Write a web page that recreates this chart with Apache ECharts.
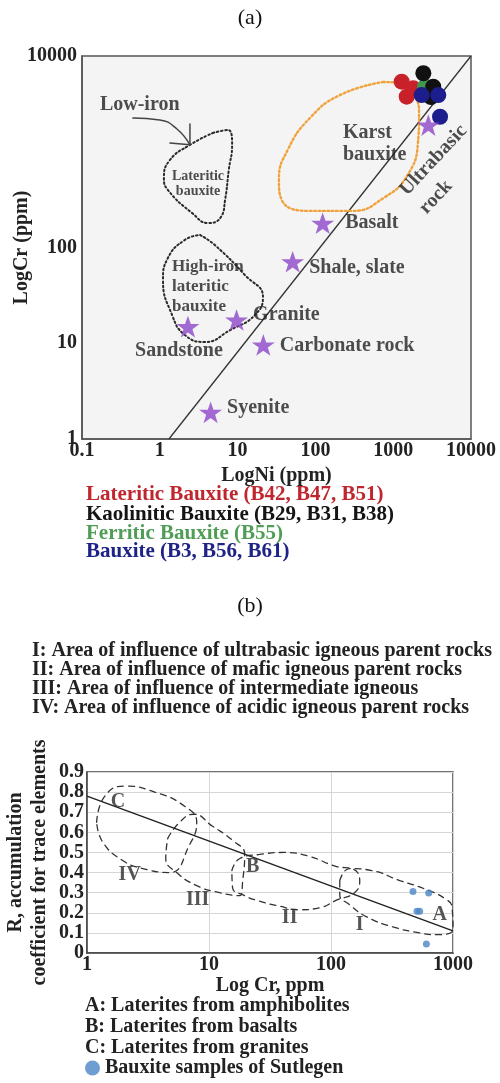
<!DOCTYPE html>
<html>
<head>
<meta charset="utf-8">
<script src="https://cdn.jsdelivr.net/npm/echarts@6/dist/echarts.min.js"></script>
<style>
  html, body { margin: 0; padding: 0; background: #ffffff; }
  #chart { width: 500px; height: 1083px; }
</style>
</head>
<body>
<div id="chart"></div>
<script>
// ===================== Panel (a): LogNi vs LogCr =====================
const xTicksA = [0.1, 1, 10, 100, 1000, 10000];
const yTicksA = [1, 10, 100, 10000];

// Reference rocks (stars)
const rockNames = ['Syenite', 'Sandstone', 'Granite', 'Carbonate rock', 'Shale, slate', 'Basalt', 'Ultrabasic rock'];
const rockNi = [4.5, 2.3, 9.7, 21.4, 51, 124, 2830];
const rockCr = [1.9, 14.9, 17.5, 9.6, 71, 179, 1900];

// Bauxite samples
const lateriticNames = ['B42', 'B47', 'B51'];
const lateriticNi = [1285, 1810, 1490];
const lateriticCr = [5390, 4600, 3760];

const kaoliniticNames = ['B29', 'B31', 'B38'];
const kaoliniticNi = [2440, 3270, 3060];
const kaoliniticCr = [6600, 4780, 3730];

const ferriticNames = ['B55'];
const ferriticNi = [2570];
const ferriticCr = [4780];

const bauxiteNames = ['B3', 'B56', 'B61'];
const bauxiteNi = [2320, 3800, 4000];
const bauxiteCr = [3910, 3910, 2320];

// 1:1 reference line
const diagonalA = [[1.31, 1], [10000, 10000]];

// Field outlines [Ni, Cr]
const lowIronField = [[4.8, 1570], [7.5, 1690], [8.5, 1180], [7.7, 645], [6.9, 313], [6.1, 208], [4.2, 180],
  [2.6, 229], [1.27, 399], [1.13, 532], [1.35, 820], [2.44, 1180], [4.8, 1570]];
const highIronField = [[3.3, 135], [5.1, 106], [12.4, 51.6], [21.2, 30.4], [16.7, 19.7], [8.0, 13.7], [3.8, 10.3],
  [2.1, 12.2], [1.44, 19.7], [1.1, 45.8], [1.27, 77.7], [2.1, 120], [3.3, 135]];
const karstField = [[740, 5350], [1220, 5220], [1850, 3910], [2150, 2420], [2080, 1235], [1500, 558], [785, 337],
  [295, 241], [85, 241], [37, 313], [34, 507], [44, 1043], [85, 2250], [207, 3910], [740, 5350]];
const lowIronArrow = [[0.45, 2250], [1.0, 2150], [1.66, 1730], [2.44, 1180]];
const lowIronArrowHead = [[2.44, 1950], [2.44, 1180], [1.35, 1235]];

// Field annotations
const annotTextA = ['Low-iron', 'Lateritic\nbauxite', 'High-iron\nlateritic\nbauxite', 'Karst\nbauxite', 'Ultrabasic\nrock'];
const annotNiA = [0.17, 3.1, 1.44, 226, 1795];
const annotCrA = [3080, 460, 38.7, 1205, 299];

const legendTextA = ['Lateritic Bauxite (B42, B47, B51)', 'Kaolinitic Bauxite (B29, B31, B38)', 'Ferritic Bauxite (B55)', 'Bauxite (B3, B56, B61)'];

// ===================== Panel (b): Log Cr vs R =====================
const xTicksB = [1, 10, 100, 1000];
const mainLineB = [[1, 0.78], [1000, 0.11]];
const zoneIV = [[1.20, 0.65], [1.40, 0.78], [2.04, 0.83], [3.59, 0.80], [6.32, 0.73], [7.93, 0.65], [6.95, 0.54],
  [4.76, 0.40], [2.86, 0.42], [1.96, 0.46], [1.35, 0.55], [1.20, 0.65]];
const zoneIII = [[4.59, 0.57], [5.75, 0.65], [7.49, 0.69], [10.7, 0.63], [15.6, 0.56], [19.6, 0.49], [18.9, 0.36],
  [17.9, 0.285], [12.2, 0.30], [7.93, 0.335], [5.43, 0.40], [4.42, 0.47], [4.59, 0.57]];
const zoneII = [[15.4, 0.41], [17.9, 0.47], [26.0, 0.49], [41.7, 0.50], [66.8, 0.48], [111, 0.43], [148, 0.42],
  [172, 0.36], [156, 0.30], [113, 0.265], [80.7, 0.225], [55.3, 0.215], [36.6, 0.235], [25.1, 0.26], [19.6, 0.285],
  [15.6, 0.325], [15.4, 0.41]];
const zoneI = [[118, 0.36], [142, 0.42], [216, 0.41], [366, 0.36], [608, 0.315], [887, 0.265], [980, 0.23],
  [1000, 0.12], [735, 0.091], [533, 0.10], [321, 0.13], [196, 0.18], [142, 0.24], [118, 0.29], [118, 0.36]];

const zoneNames = ['IV', 'III', 'II', 'I'];
const zoneLabelCr = [2.24, 8.08, 45.8, 172];
const zoneLabelR = [0.39, 0.265, 0.174, 0.14];

const endNames = ['C', 'B', 'A'];
const endCr = [1.79, 22.8, 778];
const endR = [0.754, 0.43, 0.19];

const sutlegenCr = [470, 632, 507, 533, 605];
const sutlegenR = [0.306, 0.298, 0.207, 0.207, 0.045];

const zoneDescriptions = [
  'I: Area of influence of ultrabasic igneous parent rocks',
  'II: Area of influence of mafic igneous parent rocks',
  'III: Area of influence of intermediate igneous',
  'IV: Area of influence of acidic igneous parent rocks'
];
const legendTextB = ['A: Laterites from amphibolites', 'B: Laterites from basalts', 'C: Laterites from granites'];

// ===================== helpers =====================
const FONT = '"Liberation Serif", "Times New Roman", serif';
const INK = '#222';
const pairs = (xs, ys) => xs.map((x, i) => [x, ys[i]]);
const named = (names, xs, ys) => names.map((n, i) => ({ name: n, value: [xs[i], ys[i]] }));
const tickFormatter = ticks => v => {
  const t = ticks.find(t => Math.abs(v - t) <= t * 1e-6);
  return t === undefined ? '' : String(t);
};
const bold = (size, color) => ({ fontFamily: FONT, fontWeight: 'bold', fontSize: size, color: color || INK });

const STAR = 'path://M50,2 L61.8,36.2 L97.6,36.2 L68.6,57.4 L79.4,91.6 L50,70.6 L20.6,91.6 L31.4,57.4 L2.4,36.2 L38.2,36.2 Z';

const starLabel = {
  'Syenite': { position: 'right', offset: [0, -4] },
  'Sandstone': { position: 'bottom', offset: [-9, -2] },
  'Granite': { position: 'right', offset: [0, -5] },
  'Carbonate rock': { position: 'right', offset: [0, 1] },
  'Shale, slate': { position: 'right', offset: [0, 6] },
  'Basalt': { position: 'right', offset: [6, 0] },
  'Ultrabasic rock': { show: false }
};

const annotStyle = {
  'Low-iron': { position: 'right', fontSize: 20, lineHeight: 22, align: 'left' },
  'Lateritic\nbauxite': { position: 'inside', fontSize: 14, lineHeight: 15, align: 'center' },
  'High-iron\nlateritic\nbauxite': { position: 'right', fontSize: 17, lineHeight: 20, align: 'left' },
  'Karst\nbauxite': { position: 'right', fontSize: 20, lineHeight: 22, align: 'left' },
  'Ultrabasic\nrock': { position: 'right', fontSize: 20, lineHeight: 27, align: 'left', rotate: 47 }
};

function outline(data, color, type, width, xi, yi, smooth) {
  return {
    type: 'line', xAxisIndex: xi, yAxisIndex: yi, data: data, smooth: smooth === undefined ? 0.5 : smooth,
    symbol: 'none', silent: true, clip: true,
    lineStyle: { color: color, width: width, type: type, cap: 'round' },
    z: 2
  };
}

function sampleSeries(name, names, xs, ys, color, z) {
  return {
    type: 'scatter', name: name, xAxisIndex: 0, yAxisIndex: 0,
    data: named(names, xs, ys), symbol: 'circle', symbolSize: 16,
    itemStyle: { color: color, opacity: 1 }, z: z
  };
}

const series = [
  // ---- panel (a) ----
  { type: 'line', xAxisIndex: 0, yAxisIndex: 0, data: diagonalA, symbol: 'none', silent: true,
    lineStyle: { color: '#333', width: 1.3 }, z: 1 },
  outline(lowIronField, '#2a2a2a', [1.6, 2.6], 2, 0, 0),
  outline(highIronField, '#2a2a2a', [1.6, 2.6], 2, 0, 0),
  outline(karstField, '#f0a23c', [1.8, 2.6], 2.4, 0, 0),
  outline(lowIronArrow, '#444', 'solid', 1.5, 0, 0),
  outline(lowIronArrowHead, '#444', 'solid', 1.5, 0, 0, false),
  sampleSeries('Lateritic Bauxite', lateriticNames, lateriticNi, lateriticCr, '#c92129', 5),
  sampleSeries('Ferritic Bauxite', ferriticNames, ferriticNi, ferriticCr, '#3f9a4d', 6),
  sampleSeries('Kaolinitic Bauxite', kaoliniticNames, kaoliniticNi, kaoliniticCr, '#111111', 7),
  sampleSeries('Bauxite', bauxiteNames, bauxiteNi, bauxiteCr, '#1b1e8c', 8),
  {
    type: 'scatter', name: 'Rocks', xAxisIndex: 0, yAxisIndex: 0,
    data: rockNames.map((n, i) => ({
      name: n, value: [rockNi[i], rockCr[i]],
      label: Object.assign({ show: true }, starLabel[n])
    })),
    symbol: STAR, symbolSize: 23, symbolKeepAspect: true,
    itemStyle: { color: '#8c46c8' },
    label: Object.assign({ formatter: '{b}', distance: 5 }, bold(20)),
    z: 10
  },
  {
    type: 'scatter', xAxisIndex: 0, yAxisIndex: 0, silent: true,
    data: annotTextA.map((t, i) => {
      const s = annotStyle[t];
      return {
        name: t, value: [annotNiA[i], annotCrA[i]],
        label: Object.assign({ show: true, formatter: '{b}', position: s.position, distance: 0,
          align: s.align, verticalAlign: 'middle', lineHeight: s.lineHeight, rotate: s.rotate || 0 },
          bold(s.fontSize))
      };
    }),
    symbolSize: 0, itemStyle: { color: 'transparent' }, z: 12
  },

  // ---- panel (b) ----
  { type: 'line', xAxisIndex: 1, yAxisIndex: 1, data: mainLineB, symbol: 'none', silent: true,
    lineStyle: { color: '#222', width: 1.5 }, z: 3 },
  outline(zoneIV, '#333', [6, 5], 1.3, 1, 1),
  outline(zoneIII, '#333', [6, 5], 1.3, 1, 1),
  outline(zoneII, '#333', [6, 5], 1.3, 1, 1),
  outline(zoneI, '#333', [6, 5], 1.3, 1, 1),
  {
    type: 'scatter', xAxisIndex: 1, yAxisIndex: 1, silent: true,
    data: zoneNames.map((n, i) => ({ name: n, value: [zoneLabelCr[i], zoneLabelR[i]] }))
      .concat(endNames.map((n, i) => ({ name: n, value: [endCr[i], endR[i]] }))),
    symbolSize: 0, itemStyle: { color: 'transparent' },
    label: Object.assign({ show: true, formatter: '{b}', position: 'inside' }, bold(20, '#2a2a2a')),
    z: 12
  },
  {
    type: 'scatter', name: 'Bauxite samples of Sutlegen', xAxisIndex: 1, yAxisIndex: 1,
    data: pairs(sutlegenCr, sutlegenR), symbol: 'circle', symbolSize: 7,
    itemStyle: { color: '#4a86c6' }, z: 9
  }
];

const option = {
  backgroundColor: '#ffffff',
  animation: false,
  title: [
    { text: '(a)', left: 'center', top: 7, padding: 0,
      textStyle: { fontFamily: FONT, fontWeight: 'normal', fontSize: 22, color: '#111' } },
    { text: legendTextA[0], left: 86, top: 484, padding: 0, textStyle: bold(21, '#c0262e') },
    { text: legendTextA[1], left: 86, top: 504, padding: 0, textStyle: bold(21, '#151515') },
    { text: legendTextA[2], left: 86, top: 523, padding: 0, textStyle: bold(21, '#4f9d57') },
    { text: legendTextA[3], left: 86, top: 541, padding: 0, textStyle: bold(21, '#1e2385') },
    { text: '(b)', left: 'center', top: 595, padding: 0,
      textStyle: { fontFamily: FONT, fontWeight: 'normal', fontSize: 22, color: '#111' } },
    { text: zoneDescriptions.join('\n'), left: 32, top: 641, padding: 0,
      textStyle: Object.assign({ lineHeight: 19 }, bold(20)) },
    { text: legendTextB.join('\n'), left: 85, top: 995, padding: 0,
      textStyle: Object.assign({ lineHeight: 21 }, bold(20)) }
  ],
  legend: {
    data: ['Bauxite samples of Sutlegen'], left: 85, top: 1058, padding: 0,
    icon: 'circle', itemWidth: 15, itemHeight: 15, itemGap: 6, selectedMode: false,
    textStyle: bold(20)
  },
  grid: [
    { left: 82, top: 56, width: 389, height: 383, show: true, backgroundColor: '#f4f4f4',
      borderColor: '#555', borderWidth: 1.5, containLabel: false, outerBoundsMode: 'none' },
    { left: 87, top: 772, width: 366, height: 181, show: true, backgroundColor: '#ffffff',
      borderColor: '#444', borderWidth: 1.5, containLabel: false, outerBoundsMode: 'none' }
  ],
  xAxis: [
    { type: 'log', logBase: 10, gridIndex: 0, min: 0.1, max: 10000,
      name: 'LogNi (ppm)', nameLocation: 'middle', nameGap: 27, nameMoveOverlap: false, nameTextStyle: bold(20),
      axisLine: { show: true, lineStyle: { color: '#555', width: 1.5 } },
      axisTick: { show: false }, splitLine: { show: false }, minorTick: { show: false },
      axisLabel: Object.assign({ margin: 2, formatter: tickFormatter(xTicksA), showMinLabel: true, showMaxLabel: true }, bold(20)) },
    { type: 'log', logBase: 10, gridIndex: 1, min: 1, max: 1000,
      name: 'Log Cr, ppm', nameLocation: 'middle', nameGap: 23, nameMoveOverlap: false, nameTextStyle: bold(20),
      axisLine: { show: true, lineStyle: { color: '#444', width: 1.5 } },
      axisTick: { show: false },
      splitLine: { show: true, lineStyle: { color: '#d6d6d6', width: 1 } },
      axisLabel: Object.assign({ margin: 2, formatter: tickFormatter(xTicksB), showMinLabel: true, showMaxLabel: true }, bold(20)) }
  ],
  yAxis: [
    { type: 'log', logBase: 10, gridIndex: 0, min: 1, max: 10000,
      name: 'LogCr (ppm)', nameLocation: 'middle', nameGap: 50, nameRotate: 90, nameMoveOverlap: false, nameTextStyle: bold(20),
      axisLine: { show: true, lineStyle: { color: '#555', width: 1.5 } },
      axisTick: { show: false }, splitLine: { show: false },
      axisLabel: Object.assign({ margin: 5, formatter: tickFormatter(yTicksA), showMinLabel: true, showMaxLabel: true }, bold(20)) },
    { type: 'value', gridIndex: 1, min: 0, max: 0.9, interval: 0.1,
      name: 'R, accumulation\ncoefficient for trace elements', nameLocation: 'middle', nameGap: 35, nameRotate: 90,
      nameMoveOverlap: false,
      nameTextStyle: Object.assign({ lineHeight: 24 }, bold(20)),
      axisLine: { show: true, lineStyle: { color: '#444', width: 1.5 } },
      axisTick: { show: false },
      splitLine: { show: true, lineStyle: { color: '#d6d6d6', width: 1 } },
      axisLabel: Object.assign({ margin: 3, formatter: v => (v === 0 ? '0' : v.toFixed(1)) }, bold(20)) }
  ],
  series: series
};

const chart = echarts.init(document.getElementById('chart'), null, { renderer: 'canvas' });
chart.setOption(option);
</script>
</body>
</html>
